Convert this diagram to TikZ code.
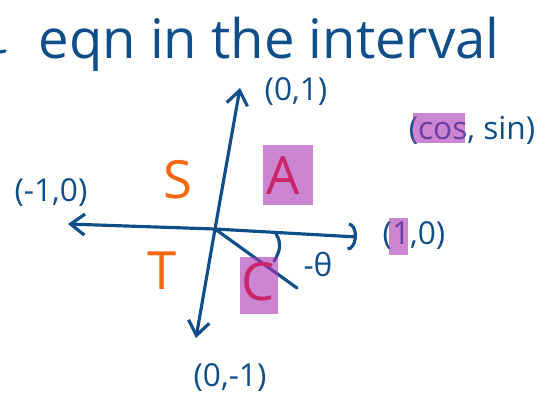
\documentclass[tikz,border=0pt]{standalone}
\usepackage{fontspec}
\setmainfont{Open Sans}
\usetikzlibrary{arrows.meta}
\definecolor{inkblue}{RGB}{16, 78, 138}
\definecolor{inkorange}{RGB}{250, 102, 12}
\definecolor{hlpurple}{RGB}{168, 52, 178}

\begin{document}
\begin{tikzpicture}[
    x=0.02cm, y=-0.02cm,
    ink/.style={draw=inkblue, line width=1.8pt, line cap=round, line join=round},
    axis/.style={ink, -{Straight Barb[length=8pt, width=12pt, line width=1.8pt]}},
    lbl/.style={text=inkblue, inner sep=1pt, font=\fontsize{18}{21}\selectfont},
    quad/.style={text=inkorange, inner sep=1pt, font=\fontsize{30}{34}\selectfont},
    hilite/.style={fill=hlpurple, fill opacity=0.6, draw=none}
  ]
    \useasboundingbox (0,0) rectangle (551,397);

    \node (title) [text=inkblue, font=\fontsize{31}{35}\selectfont] at (269,44) {eqn in the interval};
    \draw[ink] (0,52) -- (5,51);

    \coordinate (O) at (215,229);
    \coordinate (yTop) at (240,88);
    \coordinate (yBot) at (196,338);
    \coordinate (xLeft) at (68,224);
    \coordinate (xRight) at (357,237);
    \coordinate (ray) at (297,288);

    \draw[axis] (O) -- (yTop);
    \draw[axis] (O) -- (yBot);
    \draw[axis] (O) -- (xLeft);
    \draw[ink, -{Arc Barb[length=5pt, width=16pt, line width=1.8pt]}] (O) -- (xRight);
    \draw[ink] (O) -- (ray);
    \draw[ink] (276,234) .. controls (282,243) and (280,252) .. (274,261);

    \node (theta) [lbl, inner sep=0pt] at (318,264) {-θ};

    \node (lblUp) [lbl] at (296,92) {(0,1)};
    \node (lblLeft) [lbl] at (51,193) {(-1,0)};
    \node (lblRight) [lbl] at (414,236) {(1,0)};
    \node (lblDown) [lbl] at (230,378) {(0,-1)};
    \node (lblTrig) [lbl] at (472,130) {(cos, sin)};

    \node (qS) [quad] at (178,180) {S};
    \node (qT) [quad] at (162,271) {T};
    \node (qA) [quad, text=red!80!inkorange] at (283,176) {A};
    \node (qC) [quad, text=red!80!inkorange] at (258,282) {C};

    \fill[hilite] (263,145) rectangle (313,205);
    \fill[hilite] (240,257) rectangle (278,314);
    \fill[hilite] (413,113) rectangle (465,143);
    \fill[hilite] (389,218) rectangle (408,255);
  \end{tikzpicture}
\end{document}
